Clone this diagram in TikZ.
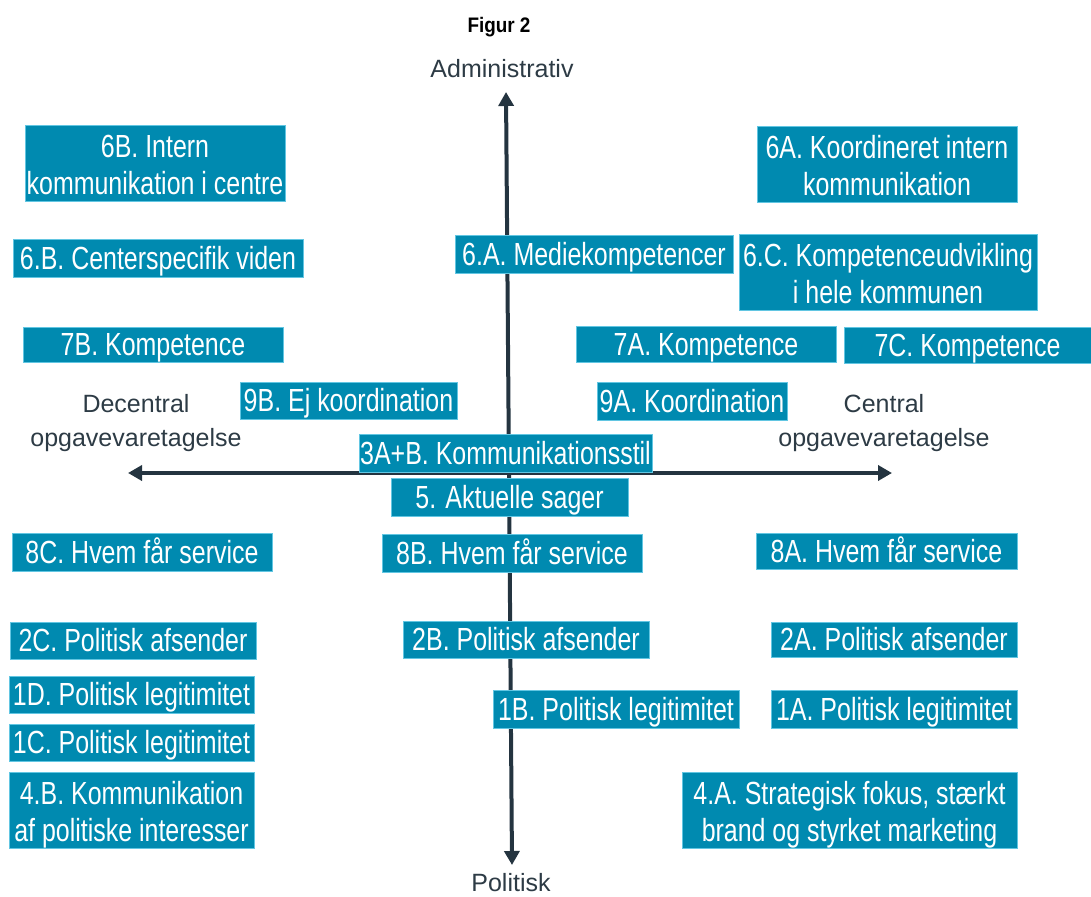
\documentclass[tikz,border=0pt]{standalone}
\usepackage{fontspec}
\setmainfont{Liberation Sans}
\newfontfamily\boxfamily{Liberation Sans}[FakeStretch=0.78]
\newfontfamily\titlefamily{Liberation Sans}[FakeStretch=0.9]
\usetikzlibrary{arrows.meta}
\definecolor{boxblue}{RGB}{0,138,176}
\definecolor{boxedge}{RGB}{98,198,226}
\definecolor{axisdark}{RGB}{36,52,64}
\definecolor{labeldark}{RGB}{45,59,69}
\newcommand\qtop{\rule{0pt}{32pt}}
\newcommand\qbot{\rule[-7pt]{0pt}{7pt}}
\tikzset{
  qbox/.style={fill=boxblue, draw=boxedge, line width=0.8pt, text=white, inner sep=0pt,
    font=\boxfamily\fontsize{32}{37}\selectfont, align=center},
  qone/.style={qbox, text height=25pt, text depth=3pt},
  axislabel/.style={text=labeldark, inner sep=0pt, font=\fontsize{25}{34}\selectfont, align=center},
  axisarrow/.style={draw=axisdark, line width=4pt, -{Triangle[length=14pt,width=15pt]}}
}
\begin{document}
\begin{tikzpicture}[x=1pt,y=-1pt]
\useasboundingbox (0,0) rectangle (1091,896);
\clip (0,0) rectangle (1091,896);
% title and axis labels
\node[inner sep=0pt, anchor=base, font=\titlefamily\bfseries\fontsize{21}{25}\selectfont] (title) at (499,33) {Figur 2};
\node[axislabel, anchor=base] (adm) at (502,78) {Administrativ};
\node[axislabel, anchor=base] (pol) at (511,891) {Politisk};
\node[axislabel, anchor=north] (dec) at (136,394) {Decentral\\opgavevaretagelse};
\node[axislabel, anchor=north] (cen) at (884,394) {Central\\opgavevaretagelse};
% axes
\coordinate (vtop) at (506,92);
\coordinate (vbot) at (512,865);
\coordinate (hmid) at (509,473);
\coordinate (hleft) at (128,473);
\coordinate (hright) at (892,473);
\coordinate (vmid) at (509,473);
\draw[axisarrow] (vmid) -- (vtop);
\draw[axisarrow] (vmid) -- (vbot);
\draw[axisarrow] (hmid) -- (hleft);
\draw[axisarrow] (hmid) -- (hright);
% boxes
\node[qbox, minimum width=260pt, minimum height=75pt] (b6B) at (155,163.5) {\qtop 6B. Intern\\kommunikation i centre\qbot};
\node[qone, minimum width=290pt, minimum height=38pt] (b6Bv) at (158,258) {6.B. Centerspecifik viden};
\node[qone, minimum width=260pt, minimum height=35pt] (b7B) at (153,344.5) {7B. Kompetence};
\node[qone, minimum width=278pt, minimum height=38pt] (b6Am) at (594,254) {6.A. Mediekompetencer};
\node[qbox, minimum width=260pt, minimum height=75pt] (b6A) at (887,164.5) {\qtop 6A. Koordineret intern\\kommunikation\qbot};
\node[qbox, minimum width=298pt, minimum height=75pt] (b6C) at (888,272.5) {\qtop 6.C. Kompetenceudvikling\\i hele kommunen\qbot};
\node[qone, minimum width=260pt, minimum height=36pt] (b7A) at (706,344) {7A. Kompetence};
\node[qone, minimum width=247pt, minimum height=36pt] (b7C) at (967.5,345) {7C. Kompetence};
\node[qone, minimum width=217pt, minimum height=37pt] (b9B) at (348.5,400.5) {9B. Ej koordination};
\node[qone, minimum width=190pt, minimum height=38pt] (b9A) at (692,401) {9A. Koordination};
\node[qone, minimum width=293pt, minimum height=38pt] (b3) at (505.5,453) {3A+B. Kommunikationsstil};
\node[qone, minimum width=237pt, minimum height=38pt] (b5) at (509.5,497) {5. Aktuelle sager};
\node[qone, minimum width=260pt, minimum height=38pt] (b8C) at (142,552) {8C. Hvem får service};
\node[qone, minimum width=260pt, minimum height=38pt] (b8B) at (512,553) {8B. Hvem får service};
\node[qone, minimum width=261pt, minimum height=36pt] (b8A) at (886.5,551) {8A. Hvem får service};
\node[qone, minimum width=246pt, minimum height=37pt] (b2C) at (133,640.5) {2C. Politisk afsender};
\node[qone, minimum width=246pt, minimum height=37pt] (b2B) at (526,639.5) {2B. Politisk afsender};
\node[qone, minimum width=246pt, minimum height=35pt] (b2A) at (894,639.5) {2A. Politisk afsender};
\node[qone, minimum width=245pt, minimum height=37pt] (b1D) at (131.5,694.5) {1D. Politisk legitimitet};
\node[qone, minimum width=245pt, minimum height=37pt] (b1C) at (131.5,742.5) {1C. Politisk legitimitet};
\node[qone, minimum width=246pt, minimum height=38pt] (b1B) at (616,709) {1B. Politisk legitimitet};
\node[qone, minimum width=246pt, minimum height=38pt] (b1A) at (894,709) {1A. Politisk legitimitet};
\node[qbox, minimum width=245pt, minimum height=75pt] (b4B) at (131.5,810.5) {\qtop 4.B. Kommunikation\\af politiske interesser\qbot};
\node[qbox, minimum width=335pt, minimum height=75pt] (b4A) at (849.5,810.5) {\qtop 4.A. Strategisk fokus, stærkt\\brand og styrket marketing\qbot};
\end{tikzpicture}
\end{document}
